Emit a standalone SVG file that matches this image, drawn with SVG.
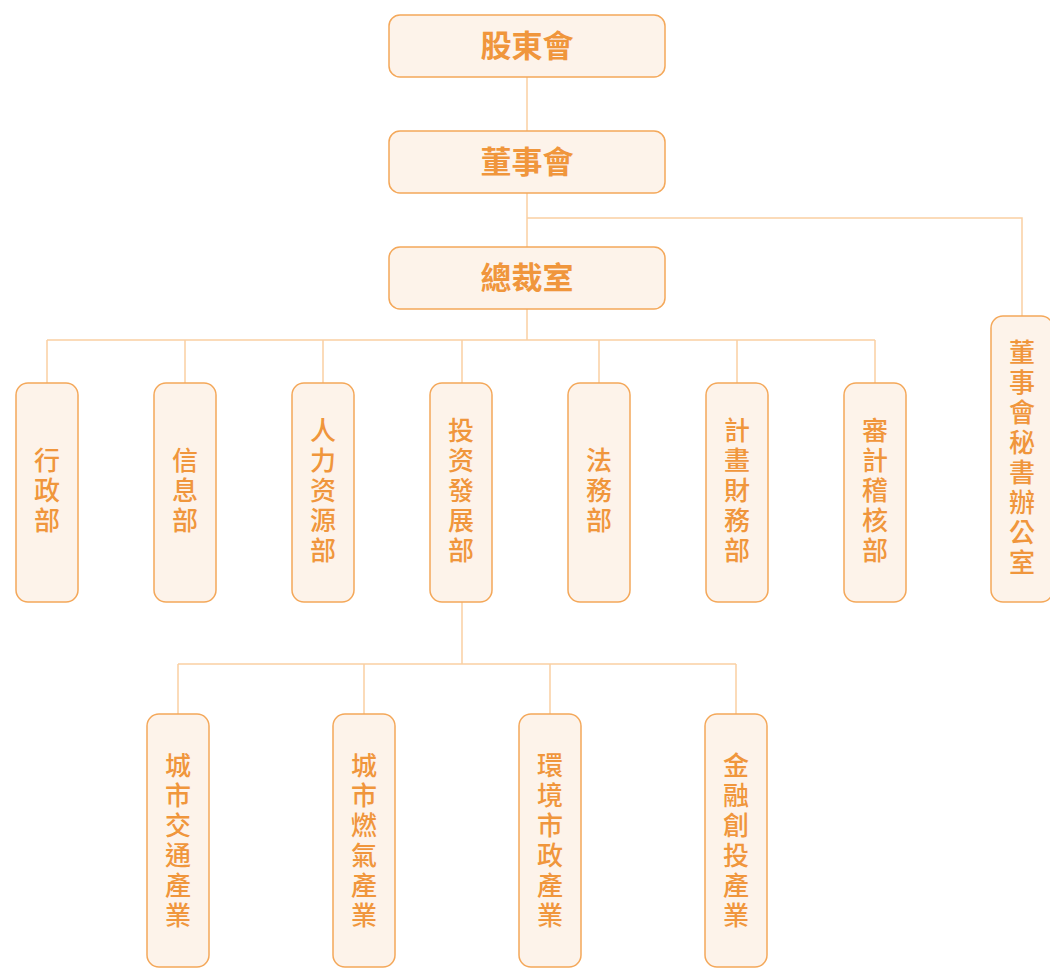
<svg xmlns="http://www.w3.org/2000/svg" width="1050" height="969" viewBox="0 0 1050 969">
<style>
.box{fill:#FDF3EA;stroke:#F4A85A;stroke-width:1.5}
.h{font-family:"Noto Sans CJK TC","Noto Sans CJK SC",sans-serif;font-size:31px;font-weight:bold;fill:#F0963C;text-anchor:middle}
.v{font-family:"Noto Sans CJK TC","Noto Sans CJK SC",sans-serif;font-size:26px;font-weight:500;fill:#F0963C;text-anchor:middle;writing-mode:vertical-rl;letter-spacing:4px}
.c{fill:none;stroke:#FAD0A2;stroke-width:1.5}
</style>
<rect width="1050" height="969" fill="#FFFFFF"/>
<g id="connectors">
<path class="c" d="M527 77V131M527 193V247M527 218H1022V316M527 309V340M47 340H875M47 340V383M185 340V383M323 340V383M462 340V383M599 340V383M737 340V383M875 340V383M462 602V664M178 664H736M178 664V714M364 664V714M550 664V714M736 664V714"/>
</g>
<g id="n1"><rect class="box" x="389" y="15" width="276" height="62" rx="11"/><text class="h" x="527" y="57">股東會</text></g>
<g id="n2"><rect class="box" x="389" y="131" width="276" height="62" rx="11"/><text class="h" x="527" y="173">董事會</text></g>
<g id="n3"><rect class="box" x="389" y="247" width="276" height="62" rx="11"/><text class="h" x="527" y="289">總裁室</text></g>
<g id="n4"><rect class="box" x="991" y="316" width="62" height="286" rx="12"/><text class="v" x="1022" y="459">董事會秘書辦公室</text></g>
<g id="d1"><rect class="box" x="16" y="383" width="62" height="219" rx="12"/><text class="v" x="47" y="492">行政部</text></g>
<g id="d2"><rect class="box" x="154" y="383" width="62" height="219" rx="12"/><text class="v" x="185" y="492">信息部</text></g>
<g id="d3"><rect class="box" x="292" y="383" width="62" height="219" rx="12"/><text class="v" x="323" y="492">人力资源部</text></g>
<g id="d4"><rect class="box" x="430" y="383" width="62" height="219" rx="12"/><text class="v" x="461" y="492">投资發展部</text></g>
<g id="d5"><rect class="box" x="568" y="383" width="62" height="219" rx="12"/><text class="v" x="599" y="492">法務部</text></g>
<g id="d6"><rect class="box" x="706" y="383" width="62" height="219" rx="12"/><text class="v" x="737" y="492">計畫財務部</text></g>
<g id="d7"><rect class="box" x="844" y="383" width="62" height="219" rx="12"/><text class="v" x="875" y="492">審計稽核部</text></g>
<g id="s1"><rect class="box" x="147" y="714" width="62" height="253" rx="12"/><text class="v" x="178" y="842">城市交通產業</text></g>
<g id="s2"><rect class="box" x="333" y="714" width="62" height="253" rx="12"/><text class="v" x="364" y="842">城市燃氣產業</text></g>
<g id="s3"><rect class="box" x="519" y="714" width="62" height="253" rx="12"/><text class="v" x="550" y="842">環境市政產業</text></g>
<g id="s4"><rect class="box" x="705" y="714" width="62" height="253" rx="12"/><text class="v" x="736" y="842">金融創投產業</text></g>
</svg>
